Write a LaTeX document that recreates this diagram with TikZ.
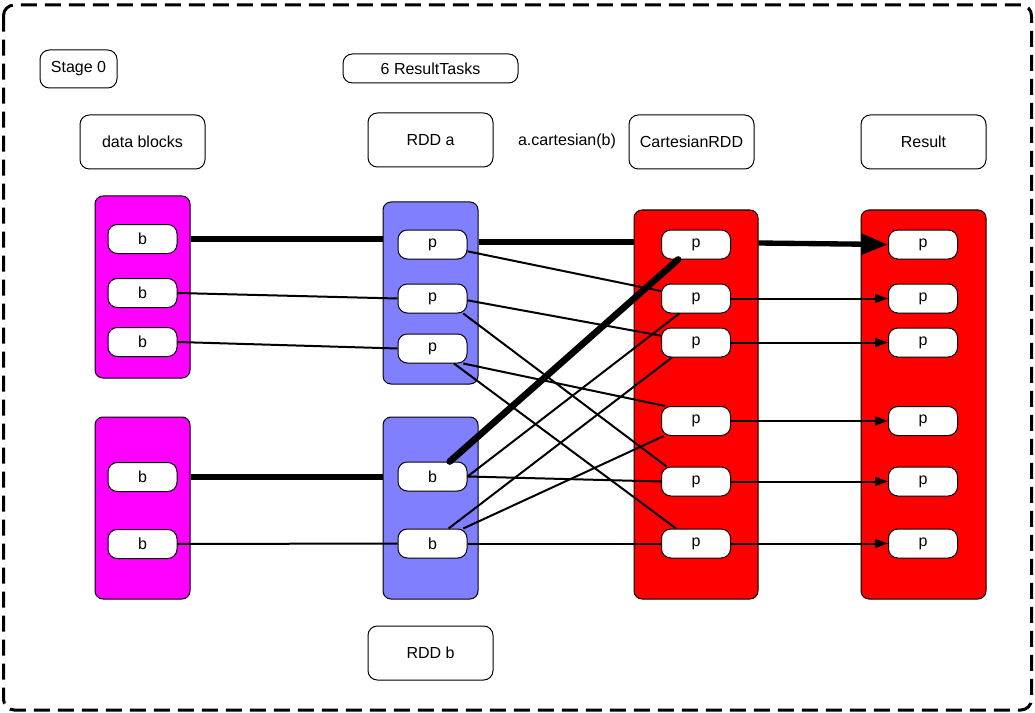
\documentclass[tikz,border=0pt]{standalone}
\usepackage{fontspec}
\setmainfont{Liberation Sans}
\usetikzlibrary{arrows.meta}
\definecolor{mag}{HTML}{FF00FF}
\definecolor{blu}{HTML}{8080FF}
\definecolor{rd}{HTML}{FF0000}
\begin{document}
\begin{tikzpicture}[x=0.75pt,y=-0.75pt,
  font=\fontsize{12}{14}\selectfont,
  box/.style={draw=black, line width=0.75pt, rounded corners=6pt, inner sep=0pt},
  cont/.style={box, minimum width=71.25pt, minimum height=136.5pt},
  tall/.style={box, fill=rd, minimum height=291.75pt},
  item/.style={box, fill=white, minimum width=51.75pt, minimum height=21.75pt, rounded corners=7pt},
  lab/.style={box, fill=white, rounded corners=7pt},
  thin/.style={line width=1.5pt},
  heavy/.style={line width=4pt},
  thinarrow/.style={thin, -{Triangle[length=9.75pt,width=6.75pt]}},
  heavyarrow/.style={heavy, -{Triangle[length=20pt,width=15pt]}},
]
\useasboundingbox (0,0) rectangle (1035,713);
% frame
\draw[line width=2.25pt, dash pattern=on 12pt off 6pt, rounded corners=8pt] (3.5,5) rectangle (1031.5,710);

% labels
\node[lab, minimum width=57.75pt, minimum height=28.5pt] (stage) at (78.5,69) {Stage 0};
\node[lab, minimum width=93.75pt, minimum height=40.5pt] (ldata) at (142.5,142) {data blocks};
\node[lab, minimum width=131.25pt, minimum height=21.75pt] (tasks) at (430.5,68.5) {6 ResultTasks};
\node[lab, minimum width=93.75pt, minimum height=40.5pt] (lrdda) at (430.5,140) {RDD a};
\node (op) at (567,141) {a.cartesian(b)};
\node[lab, minimum width=93.75pt, minimum height=40.5pt] (lcart) at (691.5,142) {CartesianRDD};
\node[lab, minimum width=93.75pt, minimum height=40.5pt] (lres) at (923.5,142) {Result};
\node[lab, minimum width=93.75pt, minimum height=40.5pt] (lrddb) at (430.5,653) {RDD b};

% containers
\node[cont, fill=mag] (m1) at (142.5,287) {};
\node[cont, fill=mag] (m2) at (142.5,508) {};
\node[cont, fill=blu] (ba) at (430.5,293) {};
\node[cont, fill=blu] (bb) at (430.5,508) {};
\node[tall, minimum width=93pt] (cr) at (696,404.5) {};
\node[tall, minimum width=93.75pt] (rr) at (923.5,404.5) {};

% items
\node[item] (db1) at (142.5,239) {b};
\node[item] (db2) at (142.5,293) {b};
\node[item] (db3) at (142.5,342) {b};
\node[item] (db4) at (142.5,477) {b};
\node[item] (db5) at (142.5,544) {b};

\node[item] (pa1) at (432.5,244.5) {p};
\node[item] (pa2) at (432.5,298.5) {p};
\node[item] (pa3) at (432.5,348.5) {p};
\node[item] (bb1) at (432.5,476.5) {b};
\node[item] (bb2) at (432.5,543.5) {b};

\node[item] (cp1) at (696,244.5) {p};
\node[item] (cp2) at (696,298.5) {p};
\node[item] (cp3) at (696,342.5) {p};
\node[item] (cp4) at (696,421) {p};
\node[item] (cp5) at (696,481.5) {p};
\node[item] (cp6) at (696,543.5) {p};

\node[item] (rp1) at (923,244.5) {p};
\node[item] (rp2) at (923,298.5) {p};
\node[item] (rp3) at (923,342.5) {p};
\node[item] (rp4) at (923,421) {p};
\node[item] (rp5) at (923,481.5) {p};
\node[item] (rp6) at (923,543.5) {p};

% heavy connectors
\draw[heavy] (m1.east |- db1.center) -- (ba.west |- db1.center);
\draw[heavy] (m2.east |- db4.center) -- (bb.west |- db4.center);
\draw[heavy] (ba.east |- 0,242) -- (cr.west |- 0,242);
\draw[heavyarrow] (cr.east |- 0,243) -- (rp1.west);
\draw[line width=5pt, line cap=round] (bb1.41) -- (cp1.220);

% thin connectors: data blocks -> RDDs
\draw[thin] (db2.east) -- (pa2.west);
\draw[thin] (db3.east) -- (pa3.west);
\draw[thin] (db5.east) -- (bb2.west);

% RDD a -> Cartesian
\draw[thin] (pa1.-11) -- (cp2.168);
\draw[thin] (pa2.-3) -- (cp3.169);
\draw[thin] (pa2.-26) -- (cp5.153);
\draw[thin] (pa3.-35) -- (cp6.143);
\draw[thin] (pa3.-26) -- (cp4.154);

% RDD b -> Cartesian
\draw[thin] (bb1.east) -- (cp2.222);
\draw[thin] (bb1.east) -- (cp5.west);
\draw[thin] (bb2.43) -- (cp3.212);
\draw[thin] (bb2.26) -- (cp4.205);
\draw[thin] (bb2.east) -- (cp6.west);

% Cartesian -> Result
\draw[thinarrow] (cp2.east) -- (rp2.west);
\draw[thinarrow] (cp3.east) -- (rp3.west);
\draw[thinarrow] (cp4.east) -- (rp4.west);
\draw[thinarrow] (cp5.east) -- (rp5.west);
\draw[thinarrow] (cp6.east) -- (rp6.west);
\end{tikzpicture}
\end{document}
